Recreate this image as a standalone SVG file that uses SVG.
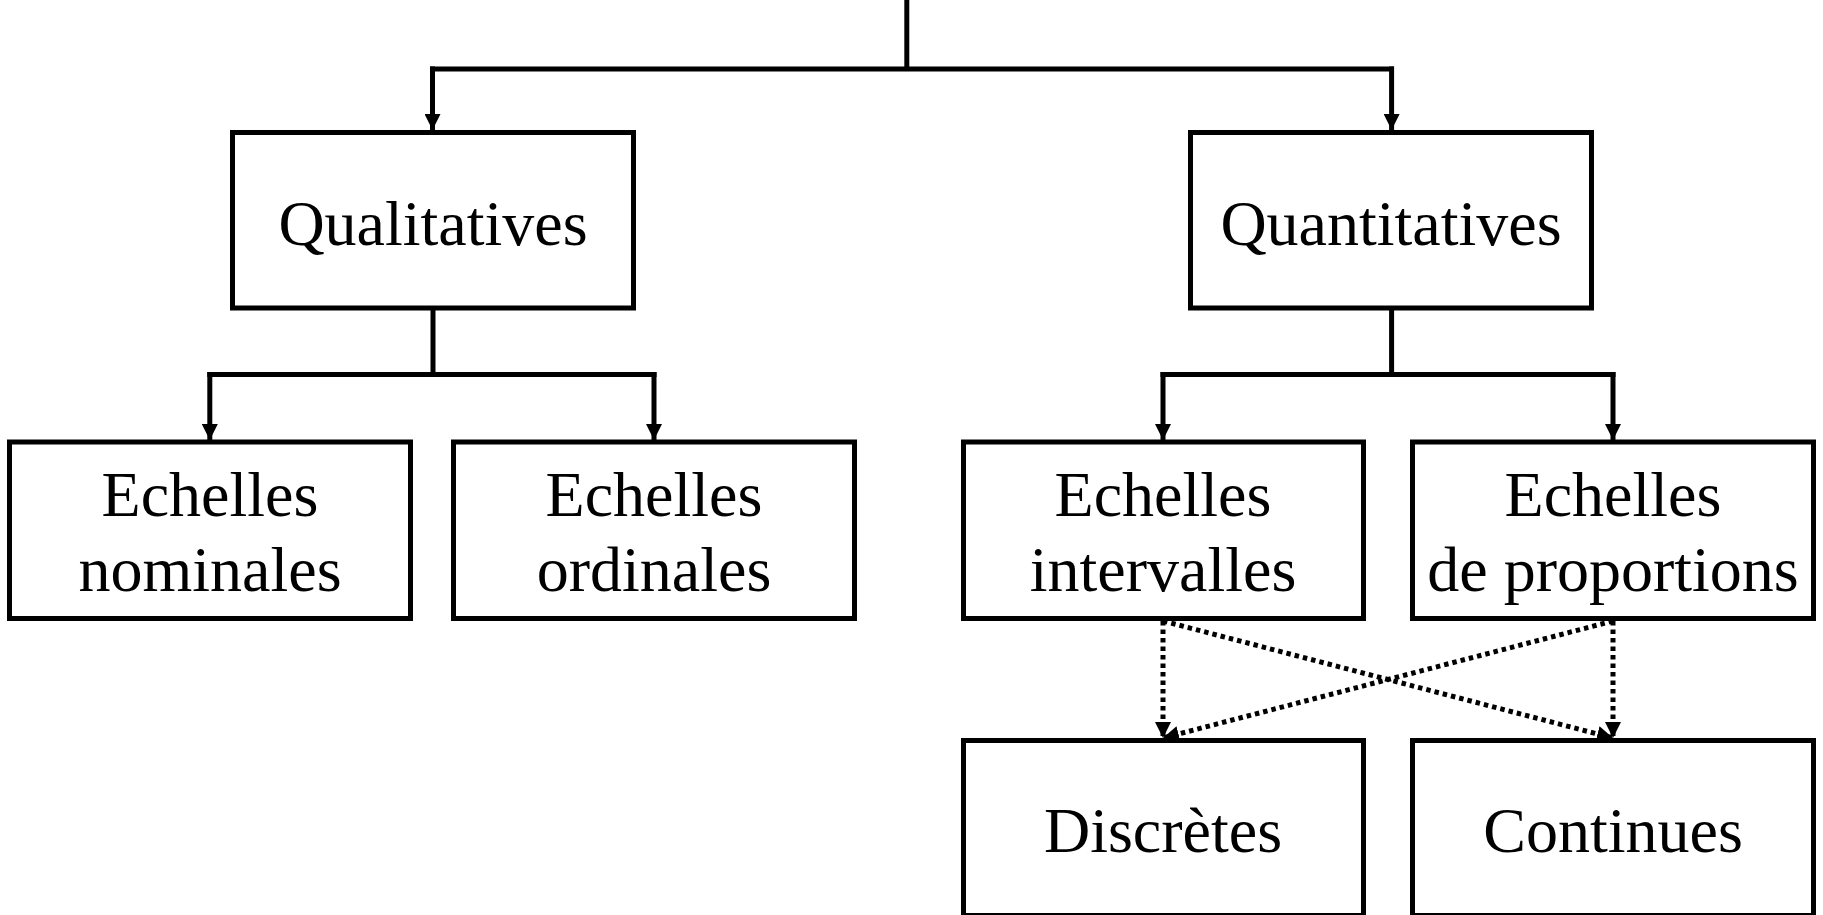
<svg xmlns="http://www.w3.org/2000/svg" width="1823" height="915" viewBox="0 0 1823 915">
<style>
.box{fill:#fff;stroke:#000;stroke-width:5}
.lbl{font-family:"Liberation Serif","Times New Roman",serif;font-size:64px;fill:#000;text-anchor:middle}
.ln{fill:none;stroke:#000;stroke-width:5}
.dot{fill:none;stroke:#000;stroke-width:5;stroke-dasharray:4.5 4}
</style>
<defs>
<marker id="ah" markerUnits="userSpaceOnUse" viewBox="0 0 16 16" markerWidth="16" markerHeight="16" refX="16" refY="8" orient="auto">
<path d="M0,0 L16,8 L0,16 z" fill="#000"/>
</marker>
</defs>
<rect width="1823" height="915" fill="#fff"/>
<g id="connectors">
<path class="ln" d="M906.8,0 V69"/>
<path class="ln" d="M430,69 H1394"/>
<path class="ln" d="M432.5,66.5 V130" marker-end="url(#ah)"/>
<path class="ln" d="M1391.6,66.5 V130" marker-end="url(#ah)"/>
<path class="ln" d="M433,308 V374.4"/>
<path class="ln" d="M207.3,374.4 H656.5"/>
<path class="ln" d="M209.8,372 V440" marker-end="url(#ah)"/>
<path class="ln" d="M654,372 V440" marker-end="url(#ah)"/>
<path class="ln" d="M1391.6,308 V374.4"/>
<path class="ln" d="M1160.5,374.4 H1615.5"/>
<path class="ln" d="M1163,372 V440" marker-end="url(#ah)"/>
<path class="ln" d="M1613,372 V440" marker-end="url(#ah)"/>
<path class="dot" d="M1163,621 V738" marker-end="url(#ah)"/>
<path class="dot" d="M1163,621 L1613,738" marker-end="url(#ah)"/>
<path class="dot" d="M1613,621 L1163,738" marker-end="url(#ah)"/>
<path class="dot" d="M1613,621 V738" marker-end="url(#ah)"/>
</g>
<g id="qualitatives">
<rect class="box" x="232.5" y="132.5" width="401" height="175.5"/>
<text class="lbl" x="433" y="245">Qualitatives</text>
</g>
<g id="quantitatives">
<rect class="box" x="1190.5" y="132.5" width="401" height="175.5"/>
<text class="lbl" x="1391" y="245">Quantitatives</text>
</g>
<g id="nominales">
<rect class="box" x="9.5" y="442" width="401" height="176.5"/>
<text class="lbl" x="210" y="516">Echelles</text>
<text class="lbl" x="210" y="591">nominales</text>
</g>
<g id="ordinales">
<rect class="box" x="453.5" y="442" width="401" height="176.5"/>
<text class="lbl" x="654" y="516">Echelles</text>
<text class="lbl" x="654" y="591">ordinales</text>
</g>
<g id="intervalles">
<rect class="box" x="963.5" y="442" width="400" height="176.5"/>
<text class="lbl" x="1163" y="516">Echelles</text>
<text class="lbl" x="1163" y="591">intervalles</text>
</g>
<g id="proportions">
<rect class="box" x="1412.5" y="442" width="401" height="176.5"/>
<text class="lbl" x="1613" y="516">Echelles</text>
<text class="lbl" x="1613" y="591">de proportions</text>
</g>
<g id="discretes">
<rect class="box" x="963.5" y="740.5" width="400" height="175"/>
<text class="lbl" x="1163" y="852">Discrètes</text>
</g>
<g id="continues">
<rect class="box" x="1412.5" y="740.5" width="401" height="175"/>
<text class="lbl" x="1613" y="852">Continues</text>
</g>
</svg>
